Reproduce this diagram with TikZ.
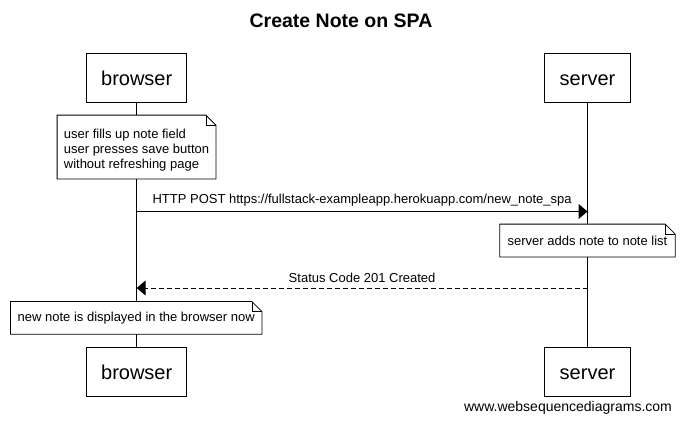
\documentclass[tikz,border=0pt]{standalone}
\usepackage{fontspec}
\setmainfont{Liberation Sans}
\usetikzlibrary{arrows.meta}
\newcommand\dogear[1]{%
  \draw[noteline] (#1.north west) -- ([xshift=-10pt]#1.north east) -- ([yshift=-10pt]#1.north east) -- (#1.south east) -- (#1.south west) -- cycle;
  \draw[foldline] ([xshift=-10pt]#1.north east) |- ([yshift=-10pt]#1.north east);}
\begin{document}
\begin{tikzpicture}[x=1pt,y=-1pt,
  actor/.style={draw,line width=1pt,minimum height=49pt,inner sep=0pt,text height=15pt,text depth=0pt,fill=white,font=\fontsize{20}{24}\selectfont},
  notebox/.style={fill=white,inner sep=0pt,align=left,font=\fontsize{13}{15}\selectfont},
  noteline/.style={line width=0.8pt},
  foldline/.style={line width=0.6pt},
  lifeline/.style={line width=1pt},
  msg/.style={line width=1pt,-{Triangle[length=9pt,width=15pt]}},
  reply/.style={msg,dash pattern=on 5pt off 3pt},
  lbl/.style={font=\fontsize{13}{16}\selectfont}
]
\useasboundingbox (0,0) rectangle (683,421);
\node[font=\fontsize{19.5}{22}\selectfont\bfseries] (title) at (341,21) {Create Note on SPA};
% actors
\node[actor,minimum width=100pt] (bt) at (136.7,77.7) {browser};
\node[actor,minimum width=86.4pt] (st) at (587.5,77.7) {server};
\node[actor,minimum width=100pt] (bb) at (136.7,371.6) {browser};
\node[actor,minimum width=86.4pt] (sb) at (587.5,371.6) {server};
% lifelines
\draw[lifeline] (bt.south) -- (bb.north);
\draw[lifeline] (st.south) -- (sb.north);
% notes
\node[notebox,minimum width=158.4pt,minimum height=63.4pt] (n1) at (136.5,147) {\rule{0pt}{16pt}user fills up note field\\user presses save button\\without refreshing page};
\dogear{n1}
\node[notebox,minimum width=175pt,minimum height=32.4pt] (n2) at (587.5,240.5) {server adds note to note list};
\dogear{n2}
\node[notebox,minimum width=251pt,minimum height=32.4pt] (n3) at (136.2,317.9) {new note is displayed in the browser now};
\dogear{n3}
% messages
\coordinate (m1s) at (136.7,211.5);
\coordinate (m1e) at (587.5,211.5);
\coordinate (m2s) at (587.5,288);
\coordinate (m2e) at (136.7,288);
\draw[msg] (m1s) -- node[lbl,midway,yshift=11pt] (l1) {HTTP POST https://fullstack-exampleapp.herokuapp.com/new\_note\_spa} (m1e);
\draw[reply] (m2s) -- node[lbl,midway,yshift=10.5pt] (l2) {Status Code 201 Created} (m2e);
\node[font=\fontsize{14}{16}\selectfont] (foot) at (568,408) {www.websequencediagrams.com};
\end{tikzpicture}
\end{document}
